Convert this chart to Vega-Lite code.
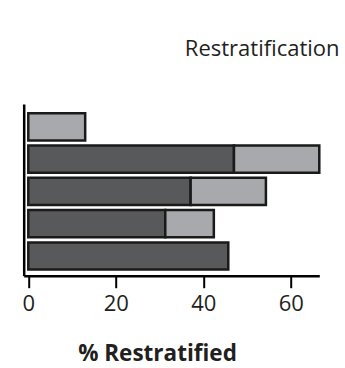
{
  "$schema": "https://vega.github.io/schema/vega-lite/v6.json",
  "autosize": "none",
  "width": 295.6,
  "height": 171.7,
  "padding": {"left": 23.7, "top": 104, "right": 25.7, "bottom": 92.3},
  "background": "white",
  "title": {
    "text": "Restratification",
    "anchor": "end",
    "font": "Open Sans",
    "fontSize": 22,
    "fontWeight": "normal",
    "color": "#231f20",
    "baseline": "alphabetic",
    "dx": 19,
    "offset": 26
  },
  "data": {
    "values": [
      {"row": 1, "segment": "dark", "pct": 0},
      {"row": 1, "segment": "light", "pct": 13.0},
      {"row": 2, "segment": "dark", "pct": 47.0},
      {"row": 2, "segment": "light", "pct": 19.5},
      {"row": 3, "segment": "dark", "pct": 37.1},
      {"row": 3, "segment": "light", "pct": 17.2},
      {"row": 4, "segment": "dark", "pct": 31.3},
      {"row": 4, "segment": "light", "pct": 11.1},
      {"row": 5, "segment": "dark", "pct": 45.7}
    ]
  },
  "transform": [{"filter": "datum.pct > 0"}],
  "mark": {"type": "bar", "stroke": "#1a1a1a", "strokeWidth": 2.5, "cornerRadius": 0},
  "encoding": {
    "y": {
      "field": "row",
      "type": "ordinal",
      "scale": {"paddingInner": 0.158, "paddingOuter": 0.237, "align": 0.6},
      "axis": {
        "title": null,
        "labels": false,
        "ticks": false,
        "domain": true,
        "domainColor": "#000000",
        "domainWidth": 2.5,
        "grid": false
      }
    },
    "x": {
      "field": "pct",
      "type": "quantitative",
      "stack": "zero",
      "scale": {"domain": [-1.05, 66.5], "nice": false, "zero": false},
      "axis": {
        "title": "% Restratified",
        "values": [0, 20, 40, 60],
        "grid": false,
        "domainColor": "#000000",
        "domainWidth": 2.5,
        "tickColor": "#000000",
        "tickWidth": 2,
        "tickSize": 12,
        "labelFont": "Open Sans",
        "labelFontSize": 22,
        "labelColor": "#231f20",
        "labelPadding": 6,
        "labelFlush": false,
        "titleFont": "Open Sans",
        "titleFontSize": 22.5,
        "titleFontWeight": "bold",
        "titleColor": "#231f20",
        "titleX": 133.3,
        "titleY": 84.5,
        "titleBaseline": "alphabetic",
        "titleAlign": "center"
      }
    },
    "color": {
      "field": "segment",
      "type": "nominal",
      "scale": {"domain": ["dark", "light"], "range": ["#58595b", "#a7a9ac"]},
      "legend": null
    },
    "order": {"field": "segment", "sort": "ascending"}
  },
  "config": {"view": {"stroke": null}}
}
